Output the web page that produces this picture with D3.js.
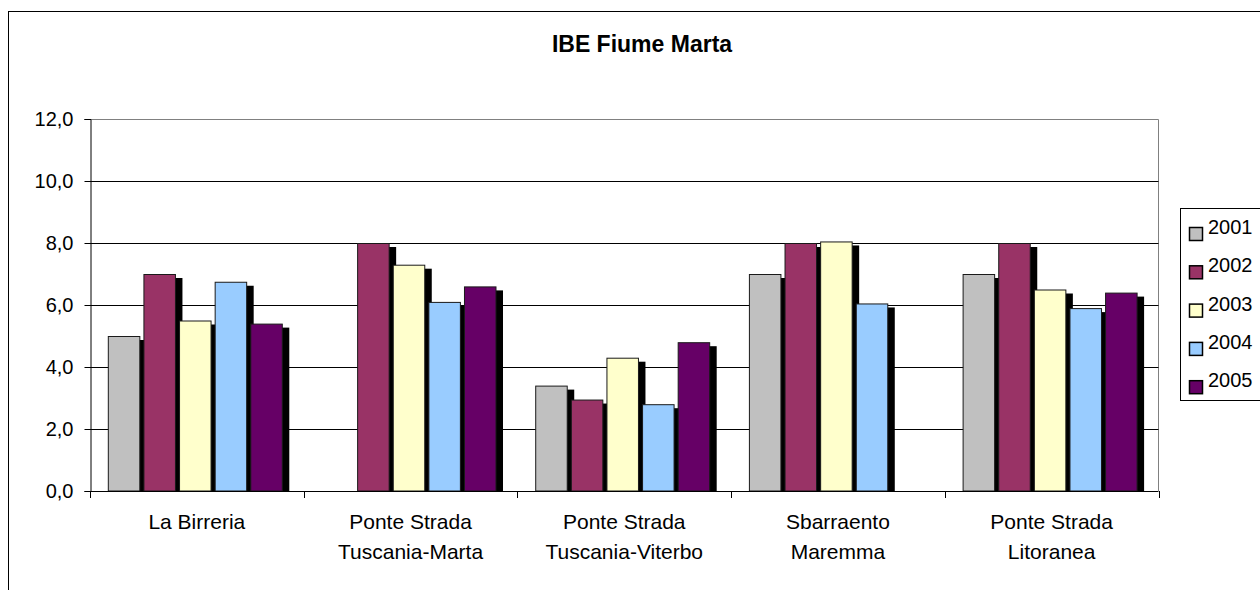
<!DOCTYPE html>
<html>
<head>
<meta charset="utf-8">
<script src="https://cdn.jsdelivr.net/npm/d3@7"></script>
<style>
  html, body { margin: 0; padding: 0; background: #fff; }
  svg { display: block; font-family: "Liberation Sans", Arial, sans-serif; }
</style>
</head>
<body>
<svg id="chart" width="1260" height="590"></svg>
<script>
// IBE index per monitoring station on the Marta river, 2001–2005
const stations = [
  ["La Birreria"],
  ["Ponte Strada", "Tuscania-Marta"],
  ["Ponte Strada", "Tuscania-Viterbo"],
  ["Sbarraento", "Maremma"],
  ["Ponte Strada", "Litoranea"]
];
const years = ["2001", "2002", "2003", "2004", "2005"];
const ibe2001 = [5.0, null, 3.4, 7.0, 7.0];
const ibe2002 = [7.0, 8.0, 2.95, 8.0, 8.0];
const ibe2003 = [5.5, 7.3, 4.3, 8.05, 6.5];
const ibe2004 = [6.75, 6.1, 2.8, 6.05, 5.9];
const ibe2005 = [5.4, 6.6, 4.8, null, 6.4];
const yTicks = [0, 2, 4, 6, 8, 10, 12];
const colors = ["#C0C0C0", "#993366", "#FFFFCC", "#99CCFF", "#660066"];

const seriesValues = [ibe2001, ibe2002, ibe2003, ibe2004, ibe2005];
const svg = d3.select("#chart");

// outer chart frame (runs past the right and bottom edges)
svg.append("rect")
  .attr("x", 8.5).attr("y", 11.5).attr("width", 1400).attr("height", 800)
  .attr("fill", "#fff").attr("stroke", "#000").attr("stroke-width", 1);

const plot = { left: 90, right: 1158.5, top: 119, bottom: 491 };

const x0 = d3.scaleBand()
  .domain(d3.range(stations.length))
  .range([plot.left, plot.right])
  .paddingInner(0).paddingOuter(0);

const x1 = d3.scaleBand()
  .domain(years)
  .range([0, x0.bandwidth()])
  .paddingInner(0).paddingOuter(0.5);

const y = d3.scaleLinear().domain([0, 12]).range([plot.bottom, plot.top]);

// plot area border (top and right in grey)
svg.append("path")
  .attr("d", `M${plot.left},${plot.top + 0.5}H${plot.right}V${plot.bottom}`)
  .attr("fill", "none").attr("stroke", "#808080").attr("stroke-width", 1);

// horizontal gridlines
svg.append("g")
  .selectAll("line")
  .data(yTicks.filter(t => t > 0 && t < 12))
  .join("line")
  .attr("x1", plot.left).attr("x2", plot.right)
  .attr("y1", d => Math.round(y(d)) + 0.5).attr("y2", d => Math.round(y(d)) + 0.5)
  .attr("stroke", "#000").attr("stroke-width", 1);

// bars with drop shadow
const barW = x1.bandwidth() * 0.885;
const bars = [];
seriesValues.forEach((vals, si) => {
  vals.forEach((v, ci) => {
    if (v == null) return;
    bars.push({ si, ci, v });
  });
});

const gBars = svg.append("g");
const groups = gBars.selectAll("g.station")
  .data(d3.range(stations.length))
  .join("g")
  .attr("class", "station")
  .attr("transform", d => `translate(${x0(d)},0)`);

groups.each(function(ci) {
  const g = d3.select(this);
  const data = bars.filter(b => b.ci === ci);
  data.forEach(b => {
    const bx = x1(years[b.si]);
    const top = y(b.v);
    g.append("rect")
      .attr("x", bx + 7.5).attr("y", top + 4)
      .attr("width", barW).attr("height", plot.bottom - top - 4)
      .attr("fill", "#000");
    g.append("rect")
      .attr("x", bx + 0.5).attr("y", top + 0.5)
      .attr("width", barW).attr("height", plot.bottom - top - 0.5)
      .attr("fill", colors[b.si])
      .attr("stroke", "#1a1a1a").attr("stroke-width", 1);
  });
});

// y axis
const yAxis = svg.append("g")
  .attr("transform", `translate(${plot.left + 0.5},0)`)
  .call(d3.axisLeft(y).tickValues(yTicks).tickSize(6).tickPadding(11)
    .tickFormat(d => d3.format(".1f")(d).replace(".", ",")));
yAxis.select(".domain").attr("stroke", "#000");
yAxis.selectAll(".tick line").attr("stroke", "#000");
yAxis.selectAll("text")
  .attr("font-family", "Liberation Sans, Arial, sans-serif")
  .attr("font-size", 20).attr("fill", "#000");

// x axis baseline and category separators
const xBase = svg.append("g");
xBase.append("line")
  .attr("x1", plot.left).attr("x2", plot.right)
  .attr("y1", plot.bottom + 0.5).attr("y2", plot.bottom + 0.5)
  .attr("stroke", "#000");
xBase.selectAll("line.sep")
  .data(d3.range(stations.length + 1))
  .join("line")
  .attr("class", "sep")
  .attr("x1", d => Math.round(plot.left + d * x0.step()) + 0.5)
  .attr("x2", d => Math.round(plot.left + d * x0.step()) + 0.5)
  .attr("y1", plot.bottom).attr("y2", plot.bottom + 7)
  .attr("stroke", "#000");

// category labels
const xLabels = svg.append("g");
stations.forEach((lines, ci) => {
  const t = xLabels.append("text")
    .attr("x", x0(ci) + x0.bandwidth() / 2)
    .attr("y", 529)
    .attr("text-anchor", "middle")
    .attr("font-size", 21).attr("fill", "#000");
  lines.forEach((ln, li) => {
    t.append("tspan")
      .attr("x", x0(ci) + x0.bandwidth() / 2)
      .attr("dy", li === 0 ? 0 : 30)
      .text(ln);
  });
});

// title
svg.append("text")
  .attr("x", 642).attr("y", 52)
  .attr("text-anchor", "middle")
  .attr("font-size", 23).attr("font-weight", "bold")
  .attr("fill", "#000")
  .text("IBE Fiume Marta");

// legend
const legend = svg.append("g");
legend.append("rect")
  .attr("x", 1180.5).attr("y", 208.5).attr("width", 120).attr("height", 192)
  .attr("fill", "#fff").attr("stroke", "#000");
const rowStep = 38.3;
years.forEach((yr, i) => {
  const base = 234 + i * rowStep;
  legend.append("rect")
    .attr("x", 1189.5).attr("y", base - 6.5).attr("width", 13).attr("height", 13)
    .attr("fill", colors[i]).attr("stroke", "#000").attr("stroke-width", 1.5);
  legend.append("text")
    .attr("x", 1208).attr("y", base)
    .attr("font-size", 20).attr("fill", "#000")
    .text(yr);
});
</script>
</body>
</html>
